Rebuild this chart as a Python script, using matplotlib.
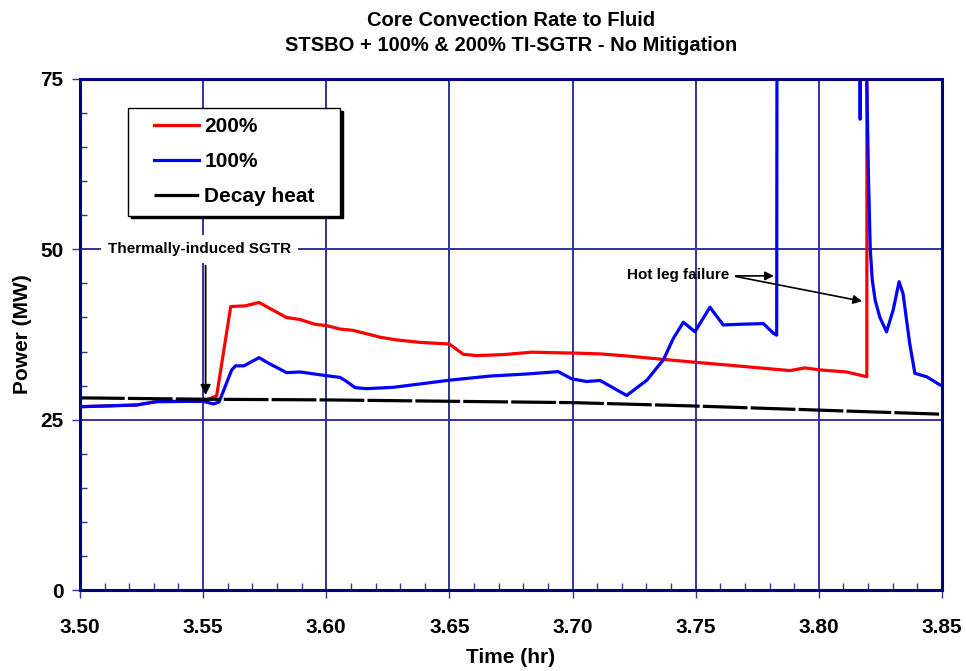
import numpy as np
import matplotlib.pyplot as plt
from matplotlib.ticker import MultipleLocator
from matplotlib.legend_handler import HandlerLine2D

plt.rcParams['font.family'] = ['Liberation Sans', 'DejaVu Sans']
plt.rcParams['font.weight'] = 'bold'

# 200% TI-SGTR
t_200 = [3.500, 3.5230, 3.5311, 3.5500, 3.5514, 3.5555, 3.5612, 3.5670, 3.5727,
         3.5838, 3.5893, 3.5954, 3.6002, 3.6056, 3.6110, 3.6219, 3.6286, 3.6380,
         3.6500, 3.6556, 3.6610, 3.6719, 3.6834, 3.7030, 3.7112, 3.7220, 3.7382,
         3.7505, 3.7666, 3.7883, 3.7943, 3.8005, 3.8113, 3.8195, 3.8196]
p_200 = [26.9, 27.15, 27.65, 27.7, 27.9, 28.5, 41.6, 41.7, 42.2,
         40.0, 39.7, 39.0, 38.8, 38.3, 38.1, 37.1, 36.7, 36.35,
         36.1, 34.6, 34.4, 34.55, 34.9, 34.75, 34.65, 34.35, 33.8,
         33.4, 32.9, 32.2, 32.6, 32.3, 32.0, 31.3, 150.0]

# 100% TI-SGTR
t_100 = [3.500, 3.5230, 3.5311, 3.5500, 3.5542, 3.5565, 3.5616, 3.5632, 3.5666,
         3.5727, 3.5765, 3.5839, 3.5893, 3.6002, 3.6056, 3.6083, 3.6117, 3.6164,
         3.6273, 3.6502, 3.6665, 3.6813, 3.6942, 3.6996, 3.7057, 3.7112, 3.7220,
         3.7302, 3.7369, 3.7409, 3.7450, 3.7497, 3.7558, 3.7612, 3.7680, 3.7775,
         3.7815, 3.7829, 3.7832, 3.8167, 3.8168, 3.8169, 3.8194, 3.8202, 3.8209,
         3.8217, 3.8229, 3.8248, 3.8275, 3.8302, 3.8326, 3.8342, 3.8369, 3.8390,
         3.8438, 3.8492, 3.8500]
p_100 = [26.9, 27.15, 27.65, 27.7, 27.3, 27.6, 32.3, 32.9, 32.9,
         34.1, 33.3, 31.9, 32.0, 31.45, 31.2, 30.6, 29.7, 29.55,
         29.75, 30.8, 31.4, 31.7, 32.05, 31.0, 30.6, 30.75, 28.55,
         30.8, 33.8, 36.9, 39.3, 37.9, 41.5, 38.9, 39.0, 39.1,
         37.7, 37.4, 150.0, 150.0, 69.1, 150.0, 76.0, 60.0, 50.0,
         45.5, 42.5, 40.0, 37.9, 41.1, 45.25, 43.5, 36.2, 31.8,
         31.3, 30.1, 30.0]

# decay heat
t_decay = [3.50, 3.55, 3.60, 3.65, 3.70, 3.75, 3.80, 3.85]
p_decay = [28.2, 28.0, 27.9, 27.7, 27.5, 27.0, 26.4, 25.8]

navy = '#333399'

fig = plt.figure(figsize=(9.66, 6.71), dpi=100)
ax = fig.add_axes([0.0828, 0.1207, 0.8923, 0.7616])

ax.plot(t_200, p_200, color='#ff0000', lw=2.3, label='200%')
ax.plot(t_100, p_100, color='#0000ff', lw=2.3, label='100%')
ax.plot(t_decay, p_decay, color='black', lw=2.3, ls=(0, (14, 1)), label='Decay heat')

ax.set_xlim(3.50, 3.85)
ax.set_ylim(0, 75)
ax.xaxis.set_major_locator(MultipleLocator(0.05))
ax.xaxis.set_minor_locator(MultipleLocator(0.01))
ax.yaxis.set_major_locator(MultipleLocator(25))
ax.yaxis.set_minor_locator(MultipleLocator(5))
ax.set_xticklabels([f'{v:.2f}' for v in ax.get_xticks()])

ax.grid(True, which='major', axis='both', color=navy, lw=1.4)
ax.set_axisbelow(True)
ax.tick_params(which='major', direction='out', length=6, width=1, color=navy,
               labelsize=15)
ax.tick_params(axis='x', which='major', pad=14)
ax.tick_params(axis='y', which='major', pad=6)
ax.tick_params(which='minor', direction='in', length=5, width=1, color=navy)
for s in ax.spines.values():
    s.set_color('#000080')
    s.set_linewidth(2.2)

ax.set_xlabel('Time (hr)', fontsize=15, fontweight='bold', labelpad=8)
ax.set_ylabel('Power (MW)', fontsize=15, fontweight='bold', labelpad=6)
ax.set_title('Core Convection Rate to Fluid\nSTSBO + 100% & 200% TI-SGTR - No Mitigation',
             fontsize=14.5, fontweight='bold', pad=20, linespacing=1.4)

# legend handle starts a little right of the frame, like the original
hl = HandlerLine2D(xpad=0.8)
leg = ax.legend(loc='upper left', bbox_to_anchor=(0.0557, 0.70, 0.246, 0.243),
                mode='expand', fontsize=15,
                frameon=True, fancybox=False, shadow={'color': 'black', 'alpha': 1},
                framealpha=1, edgecolor='black', handlelength=2.96, handletextpad=0.25,
                borderpad=0.45, labelspacing=0.76, borderaxespad=0,
                handler_map={plt.Line2D: hl})
leg.get_frame().set_linewidth(1.0)
for txt in leg.get_texts():
    txt.set_fontweight('bold')

ax.annotate('', xy=(3.5510, 28.2), xytext=(3.5510, 48.0),
            arrowprops=dict(arrowstyle='-|>', color='black', lw=1.3,
                            mutation_scale=15))
ax.text(3.5487, 50, 'Thermally-induced SGTR', fontsize=11, fontweight='bold',
        ha='center', va='center',
        bbox=dict(facecolor='white', edgecolor='none', pad=5))

ax.text(3.7428, 46.2, 'Hot leg failure', fontsize=11, fontweight='bold',
        ha='center', va='center')
ax.annotate('', xy=(3.7829, 46.1), xytext=(3.7651, 46.1),
            arrowprops=dict(arrowstyle='-|>', color='black', lw=1.2, mutation_scale=13))
ax.annotate('', xy=(3.8187, 42.3), xytext=(3.7651, 46.1),
            arrowprops=dict(arrowstyle='-|>', color='black', lw=1.2, mutation_scale=13))

fig.savefig('out.png', dpi=100)
